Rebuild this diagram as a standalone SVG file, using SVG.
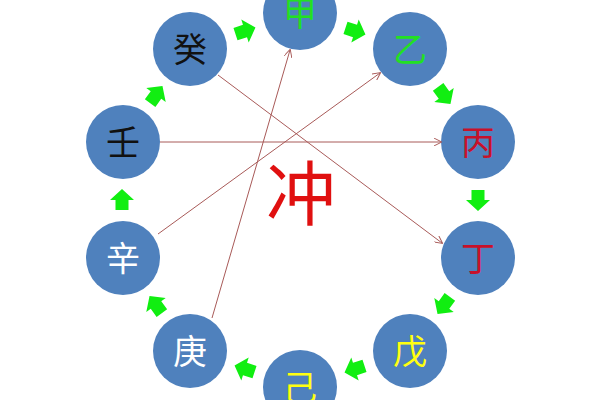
<svg xmlns="http://www.w3.org/2000/svg" width="600" height="400" viewBox="0 0 600 400">
<defs>
<style>
.node circle{fill:#4f81bd;}
.node text{font-family:"Noto Sans CJK SC","Noto Sans",sans-serif;font-size:34px;text-anchor:middle;dominant-baseline:central;}
.wood{fill:#22e022;}
.fire{fill:#c8102a;}
.earth{fill:#ffff10;}
.metal{fill:#ffffff;}
.water{fill:#111111;}
.flow{fill:#11ee11;}
.clash{stroke:#a85a58;stroke-width:1;fill:none;marker-end:url(#vh);}
</style>
<marker id="vh" viewBox="0 0 10 10" refX="9" refY="5" markerWidth="8" markerHeight="8" markerUnits="userSpaceOnUse" orient="auto">
<path d="M0,0 L10,5 L0,10" fill="none" stroke="#a85a58" stroke-width="1.2"/>
</marker>
<path id="ar" d="M-10,-6.5 H0 V-12 L11,0 L0,12 V6.5 H-10 Z"/>
</defs>
<rect width="600" height="400" fill="#ffffff"/>
<g id="n-jia" class="node"><circle cx="300" cy="13" r="37"/><text class="wood" x="300" y="11">甲</text></g>
<g id="n-yi" class="node"><circle cx="410" cy="49" r="37"/><text class="wood" x="410" y="47">乙</text></g>
<g id="n-bing" class="node"><circle cx="478" cy="142" r="37"/><text class="fire" x="478" y="140">丙</text></g>
<g id="n-ding" class="node"><circle cx="478" cy="258" r="37"/><text class="fire" x="478" y="256">丁</text></g>
<g id="n-wu" class="node"><circle cx="410" cy="351" r="37"/><text class="earth" x="410" y="349">戊</text></g>
<g id="n-ji" class="node"><circle cx="300" cy="387" r="37"/><text class="earth" x="300" y="385">己</text></g>
<g id="n-geng" class="node"><circle cx="190" cy="351" r="37"/><text class="metal" x="190" y="349">庚</text></g>
<g id="n-xin" class="node"><circle cx="123" cy="258" r="37"/><text class="metal" x="123" y="256">辛</text></g>
<g id="n-ren" class="node"><circle cx="123" cy="142" r="37"/><text class="water" x="123" y="140">壬</text></g>
<g id="n-gui" class="node"><circle cx="190" cy="49" r="37"/><text class="water" x="190" y="47">癸</text></g>
<g id="connectors">
<g class="flow">
<use href="#ar" transform="translate(355,31) rotate(18)"/>
<use href="#ar" transform="translate(444,95) rotate(54)"/>
<use href="#ar" transform="translate(478,200) rotate(90)"/>
<use href="#ar" transform="translate(444,305) rotate(126)"/>
<use href="#ar" transform="translate(355,369) rotate(162)"/>
<use href="#ar" transform="translate(245,369) rotate(198)"/>
<use href="#ar" transform="translate(156,305) rotate(234)"/>
<use href="#ar" transform="translate(122,200) rotate(270)"/>
<use href="#ar" transform="translate(156,95) rotate(306)"/>
<use href="#ar" transform="translate(245,31) rotate(342)"/>
</g>
<line class="clash" x1="218" y1="75" x2="442" y2="243"/>
<line class="clash" x1="160" y1="142" x2="441" y2="142"/>
<line class="clash" x1="158" y1="234" x2="380" y2="73"/>
<line class="clash" x1="212" y1="318" x2="290" y2="50"/>
</g>
<text id="chong" x="301" y="189" font-family="'Noto Sans CJK SC','Noto Sans',sans-serif" font-size="70" fill="#e01010" text-anchor="middle" dominant-baseline="central">冲</text>
</svg>
